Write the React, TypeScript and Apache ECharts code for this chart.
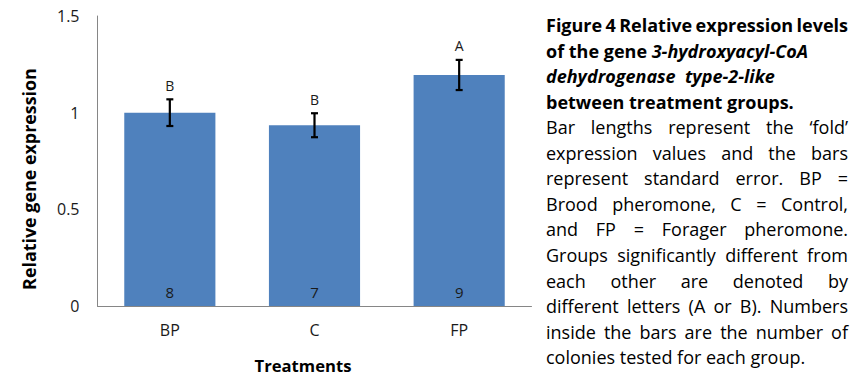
import React, { useEffect, useRef } from "react";
import * as echarts from "echarts";

const categories = ["BP", "C", "FP"];
const values = [1.0, 0.935, 1.195];
const errors = [0.069, 0.062, 0.078];
const letters = ["B", "B", "A"];
const counts = [8, 7, 9];
const yMin = 0;
const yMax = 1.5;
const yInterval = 0.5;
const yTitle = "Relative gene expression";
const xTitle = "Treatments";

type Seg = { t: string; b?: boolean; i?: boolean };
const captionLines: { segs: Seg[]; justify: boolean }[] = [
  { segs: [{ t: "Figure 4 Relative expression levels", b: true }], justify: true },
  { segs: [{ t: "of the gene ", b: true }, { t: "3-hydroxyacyl-CoA", b: true, i: true }], justify: false },
  { segs: [{ t: "dehydrogenase  type-2-like", b: true, i: true }], justify: false },
  { segs: [{ t: "between treatment groups.", b: true }], justify: false },
  { segs: [{ t: "Bar lengths represent the \u2018fold\u2019" }], justify: true },
  { segs: [{ t: "expression values and the bars" }], justify: true },
  { segs: [{ t: "represent standard error. BP =" }], justify: true },
  { segs: [{ t: "Brood pheromone, C = Control," }], justify: true },
  { segs: [{ t: "and FP = Forager pheromone." }], justify: true },
  { segs: [{ t: "Groups significantly different from" }], justify: true },
  { segs: [{ t: "each other are denoted by" }], justify: true },
  { segs: [{ t: "different letters (A or B).  Numbers" }], justify: true },
  { segs: [{ t: "inside the bars are the number of" }], justify: true },
  { segs: [{ t: "colonies tested for each group." }], justify: false },
];

const FONT = "Open Sans";

let ctx: CanvasRenderingContext2D | null = null;
function measure(text: string, size: number, bold?: boolean, italic?: boolean) {
  if (!ctx) ctx = document.createElement("canvas").getContext("2d");
  ctx!.font = `${italic ? "italic" : "normal"} ${bold ? "bold" : "normal"} ${size}px "${FONT}"`;
  return ctx!.measureText(text).width;
}
function fitSize(text: string, target: number, bold?: boolean) {
  return (100 * target) / measure(text, 100, bold);
}

function captionGraphics() {
  const left = 546;
  const right = 848;
  const top = 25;
  const lh = 25.55;
  const size = Math.min(18, fitSize("colonies tested for each group.", 263));
  const els: any[] = [];
  captionLines.forEach((line, li) => {
    const y = top + li * lh;
    const mk = (text: string, x: number, s: Seg) => ({
      type: "text",
      x,
      y,
      style: {
        text,
        fontFamily: FONT,
        fontSize: size,
        fontWeight: s.b ? "bold" : "normal",
        fontStyle: s.i ? "italic" : "normal",
        fill: "#000",
        align: "left",
        verticalAlign: "middle",
      },
    });
    if (line.justify) {
      const s = line.segs[0];
      const words = s.t.split(/\s+/);
      const widths = words.map((w) => measure(w, size, s.b, s.i));
      const total = widths.reduce((a, b) => a + b, 0);
      const gap = (right - left - total) / (words.length - 1);
      let x = left;
      words.forEach((w, wi) => {
        els.push(mk(w, x, s));
        x += widths[wi] + gap;
      });
    } else {
      let x = left;
      line.segs.forEach((s) => {
        els.push(mk(s.t, x, s));
        x += measure(s.t, size, s.b, s.i);
      });
    }
  });
  return els;
}

export default function App() {
  const ref = useRef<HTMLDivElement>(null);
  useEffect(() => {
    document.body.style.margin = "0";
    const chart = echarts.init(ref.current!, null, { renderer: "svg" });
    const errData = categories.map((c, i) => [i, values[i] - errors[i], values[i] + errors[i]]);
    const yTitleSize = Math.min(18, fitSize(yTitle, 222, true));
    const xTitleSize = Math.min(18, fitSize(xTitle, 97, true));
    chart.setOption({
      animation: false,
      textStyle: { fontFamily: FONT },
      grid: { left: 97.5, right: 332.5, top: 16, bottom: 78 },
      xAxis: {
        type: "category",
        data: categories,
        axisLine: { show: true, lineStyle: { color: "#868686", width: 1 } },
        axisTick: { show: false },
        axisLabel: { color: "#1a1a1a", fontSize: 16, fontFamily: FONT, margin: 16 },
      },
      yAxis: {
        type: "value",
        min: yMin,
        max: yMax,
        interval: yInterval,
        axisLine: { show: true, lineStyle: { color: "#868686", width: 1 } },
        axisTick: { show: false },
        splitLine: { show: false },
        axisLabel: { color: "#1a1a1a", fontSize: 16, fontFamily: FONT, margin: 18 },
      },
      series: [
        {
          type: "bar",
          data: values,
          barWidth: "63%",
          itemStyle: { color: "#4F81BD" },
          label: {
            show: true,
            position: "insideBottom",
            distance: 7,
            formatter: (p: any) => String(counts[p.dataIndex]),
            color: "#1a1a1a",
            fontSize: 15,
            fontFamily: FONT,
          },
          z: 2,
        },
        {
          type: "custom",
          data: errData,
          z: 5,
          renderItem: (params: any, api: any) => {
            const i = api.value(0);
            const lo = api.coord([i, api.value(1)]);
            const hi = api.coord([i, api.value(2)]);
            const hw = 3.5;
            const ls = { stroke: "#000", lineWidth: 2.2 };
            return {
              type: "group",
              children: [
                { type: "line", shape: { x1: hi[0], y1: hi[1], x2: lo[0], y2: lo[1] }, style: ls },
                { type: "line", shape: { x1: hi[0] - hw, y1: hi[1], x2: hi[0] + hw, y2: hi[1] }, style: ls },
                { type: "line", shape: { x1: lo[0] - hw, y1: lo[1], x2: lo[0] + hw, y2: lo[1] }, style: ls },
                {
                  type: "text",
                  x: hi[0],
                  y: hi[1] - 14,
                  style: {
                    text: letters[params.dataIndex],
                    fontFamily: FONT,
                    fontSize: 14,
                    fill: "#1a1a1a",
                    align: "center",
                    verticalAlign: "middle",
                  },
                },
              ],
            };
          },
        },
      ],
      graphic: [
        {
          type: "text",
          x: 29,
          y: 179,
          rotation: Math.PI / 2,
          style: {
            text: yTitle,
            fontFamily: FONT,
            fontSize: yTitleSize,
            fontWeight: "bold",
            fill: "#000",
            align: "center",
            verticalAlign: "middle",
          },
        },
        {
          type: "text",
          x: 303,
          y: 365,
          style: {
            text: xTitle,
            fontFamily: FONT,
            fontSize: xTitleSize,
            fontWeight: "bold",
            fill: "#000",
            align: "center",
            verticalAlign: "middle",
          },
        },
        ...captionGraphics(),
      ],
    });
    return () => chart.dispose();
  }, []);
  return (
    <div
      ref={ref}
      style={{ width: 864, height: 384, position: "fixed", left: 0, top: 0, background: "#fff" }}
    />
  );
}
